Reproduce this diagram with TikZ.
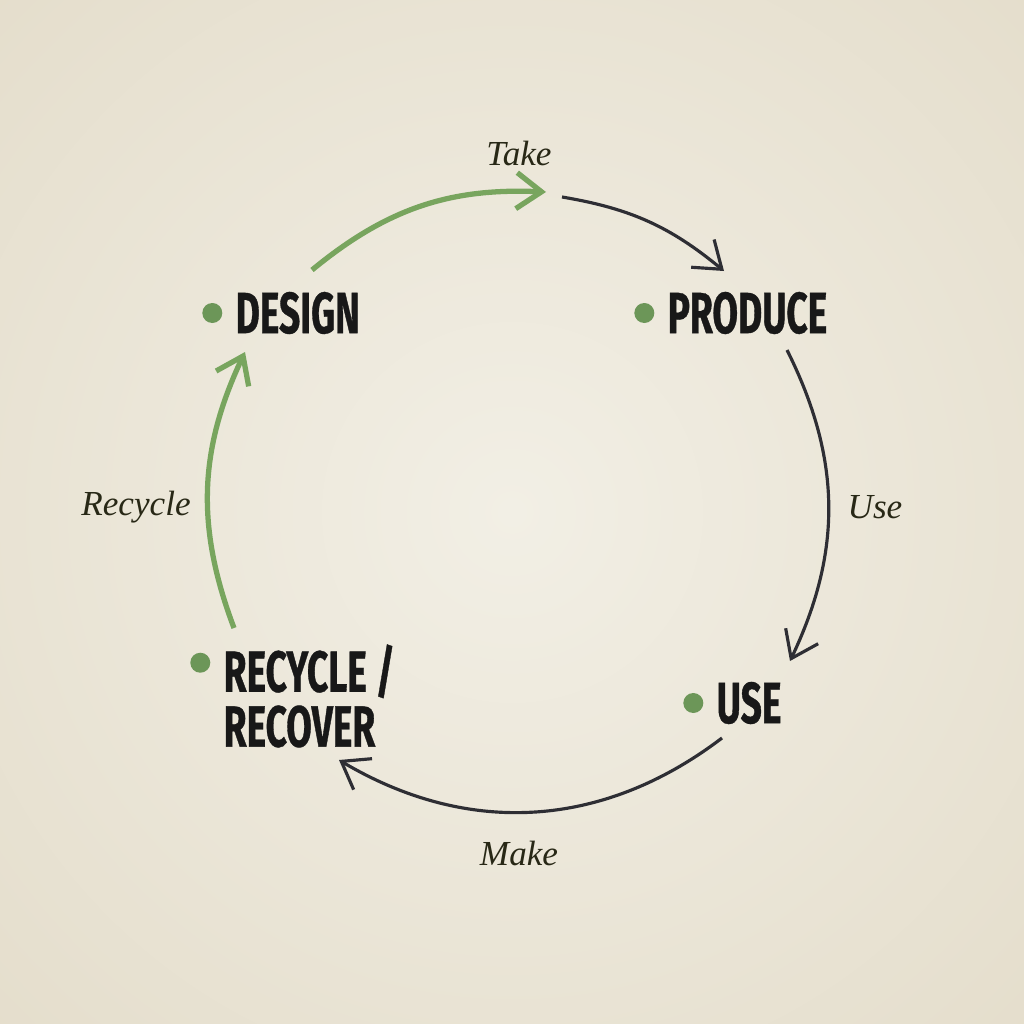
\documentclass[tikz,border=0pt]{standalone}
\usepackage{fontspec}
\setmainfont{Liberation Serif}
\newfontfamily\stagefont{Fira Sans}[FakeStretch=0.64,FakeBold=0.6]
\usetikzlibrary{arrows.meta,positioning}
\definecolor{cypaper}{RGB}{242,239,229}
\definecolor{cyedge}{RGB}{228,221,203}
\definecolor{cygreen}{RGB}{120,165,94}
\definecolor{cydot}{RGB}{108,150,88}
\definecolor{cydark}{RGB}{46,46,52}
\definecolor{cyink}{RGB}{24,24,24}
\definecolor{cylabel}{RGB}{40,40,22}

\begin{document}
\begin{tikzpicture}[x=0.1mm,y=-0.1mm,
  node distance=1.2mm,
  stage/.style={anchor=west,inner sep=0pt,align=left,text=cyink,
    font=\stagefont\bfseries\fontsize{16.5}{15.6}\selectfont},
  dot/.style={circle,fill=cydot,inner sep=0pt,minimum size=2mm},
  flowlabel/.style={font=\itshape\fontsize{10}{12}\selectfont,text=cylabel},
  flow/.style={-{Straight Barb[length=2.5mm,width=3.6mm]},line width=0.9pt,
    draw=cydark,bend left},
  greenflow/.style={flow,draw=cygreen,line width=1.5pt}]
  \useasboundingbox (0,0) rectangle (1024,1024);
  \clip (0,0) rectangle (1024,1024);
  \shade[inner color=cypaper,outer color=cyedge] (-250,-250) rectangle (1274,1274);
  % stages
  \node[stage] (design) at (235,313) {DESIGN};
  \node[dot,left=of design] (designdot) {};
  \node[stage] (produce) at (667,313) {PRODUCE};
  \node[dot,left=of produce] (producedot) {};
  \node[stage] (use) at (716,703) {USE};
  \node[dot,left=of use] (usedot) {};
  \node[stage] (recover) at (223,696) {RECYCLE /\\RECOVER};
  \node[dot,left=of recover.north west,yshift=-1.9mm] (recoverdot) {};
  % labels
  \node[flowlabel] (take) at (519,153) {Take};
  \node[flowlabel] (uselabel) at (875,507) {Use};
  \node[flowlabel] (make) at (519,853) {Make};
  \node[flowlabel] (recycle) at (136,507) {Recycle};
  % arc ends
  \coordinate (ta) at (312,270);
  \coordinate (tb) at (546,192);
  \coordinate (pa) at (562,197);
  \coordinate (pb) at (724,271);
  \coordinate (ua) at (787,350);
  \coordinate (ub) at (790,661);
  \coordinate (ma) at (722,738);
  \coordinate (mb) at (339,760);
  \coordinate (ra) at (234,628);
  \coordinate (rb) at (245,352);
  \draw[greenflow,bend left=21] (ta) to (tb);
  \draw[flow,bend left=15] (pa) to (pb);
  \draw[flow,bend left=26] (ua) to (ub);
  \draw[flow,bend left=34] (ma) to (mb);
  \draw[greenflow,bend left=23] (ra) to (rb);
\end{tikzpicture}
\end{document}
